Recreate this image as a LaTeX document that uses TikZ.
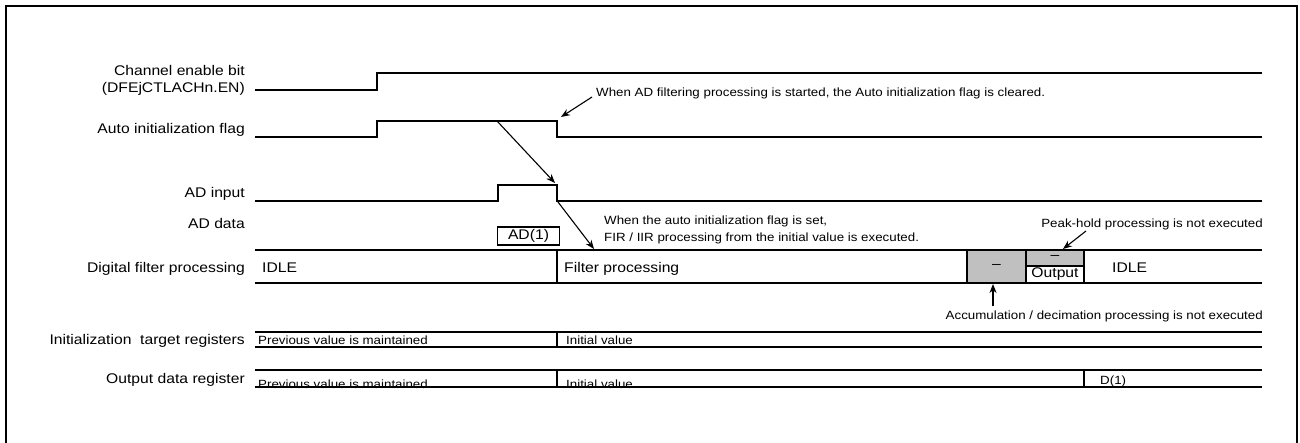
\documentclass[tikz,border=0pt]{standalone}
\usepackage{fontspec}
\setmainfont{Liberation Sans}[FakeStretch=1.12]
\usetikzlibrary{arrows.meta}
\definecolor{boxgray}{RGB}{192,192,192}
\begin{document}
\begin{tikzpicture}[x=1pt,y=-1pt,
  sig/.style={line width=1.4pt},
  rowline/.style={line width=1.8pt},
  lab/.style={font=\fontsize{14}{17}\selectfont, inner sep=0pt},
  small/.style={font=\fontsize{11.9}{16}\selectfont, inner sep=0pt},
  arr/.style={line width=1.1pt, -{Stealth[length=9pt,width=7pt]}},
  grayfill/.style={fill=boxgray, draw=black, line width=1.4pt},
]
\useasboundingbox (0,0) rectangle (1300,442);
\draw[line width=2.4pt] (6,446) -- (6,6) -- (1297,6) -- (1297,446);

% labels
\node[lab, anchor=base east] (l1a) at (245,75) {Channel enable bit};
\node[lab, anchor=base east] (l1b) at (245,92) {(DFEjCTLACHn.EN)};
\node[lab, anchor=base east] (l2) at (245,133) {Auto initialization flag};
\node[lab, anchor=base east] (l3) at (245,197) {AD input};
\node[lab, anchor=base east] (l4) at (245,228) {AD data};
\node[lab, anchor=base east] (l5) at (245,272) {Digital filter processing};
\node[lab, anchor=base east] (l6) at (245,344) {Initialization\ \ target registers};
\node[lab, anchor=base east] (l7) at (245,383) {Output data register};

% signals
\draw[sig] (255,90) -- (377,90) -- (377,73) -- (1262,73);
\draw[sig] (255,137) -- (377,137) -- (377,121) -- (557,121) -- (557,137) -- (1262,137);
\draw[sig] (255,201) -- (498,201) -- (498,185) -- (557,185) -- (557,201) -- (1262,201);

% named points for arrows
\coordinate (a1s) at (497,121);
\coordinate (a1e) at (555,183);
\coordinate (a2s) at (558,202);
\coordinate (a2e) at (594,249);
\coordinate (a3s) at (592,97);
\coordinate (a3e) at (561,117);
\coordinate (a4s) at (1086,231);
\coordinate (a4e) at (1063,249);
\coordinate (a5s) at (993,306);
\coordinate (a5e) at (993,284);

% AD(1) box
\node[lab, draw, line width=1.4pt, minimum width=62pt, minimum height=18pt, inner sep=0pt] (ad1) at (528.5,236) {AD(1)};

% Digital filter row
\node[grayfill, minimum width=59pt, minimum height=33pt, inner sep=0pt] (g1) at (996.5,266.5) {};
\node[lab] (g1t) at (996.5,266) {--};
\node[grayfill, minimum width=58pt, minimum height=16pt, inner sep=0pt] (g2) at (1055,258) {};
\node[lab] (g2t) at (1055,257) {--};
\node[lab, draw, fill=white, line width=1.4pt, minimum width=58pt, minimum height=17pt, inner sep=0pt] (g3) at (1055,274.5) {Output};
\draw[rowline] (255,250) -- (1262,250);
\draw[rowline] (255,283) -- (1262,283);
\draw[sig] (557,250) -- (557,283);
\node[lab, anchor=base west] (idle1) at (262,272) {IDLE};
\node[lab, anchor=base west] (filt) at (564,272) {Filter processing};
\node[lab, anchor=base west] (idle2) at (1112,272) {IDLE};

% Init target registers row
\node[small, anchor=base west] (pv1) at (258,344) {Previous value is maintained};
\node[small, anchor=base west] (iv1) at (566,344) {Initial value};
\draw[rowline] (255,332) -- (1262,332);
\draw[rowline] (255,347) -- (1262,347);
\draw[sig] (557,332) -- (557,347);

% Output data register row
\node[small, anchor=base west] (pv2) at (258,388) {Previous value is maintained};
\node[small, anchor=base west] (iv2) at (566,388) {Initial value};
\node[small, anchor=base west] (d1) at (1100,384) {D(1)};
\draw[rowline] (255,370) -- (1262,370);
\draw[rowline] (255,387) -- (1262,387);
\draw[sig] (557,370) -- (557,387);
\draw[sig] (1084,370) -- (1084,387);

% annotations
\node[small, anchor=base west] (n1) at (596,96) {When AD filtering processing is started, the Auto initialization flag is cleared.};
\node[small, anchor=base west] (n2a) at (604,224) {When the auto initialization flag is set,};
\node[small, anchor=base west] (n2b) at (604,241) {FIR / IIR processing from the initial value is executed.};
\node[small, anchor=base east] (n3) at (1263,227) {Peak-hold processing is not executed};
\node[small, anchor=base east] (n4) at (1263,319) {Accumulation / decimation processing is not executed};

% arrows
\draw[arr] (a1s) -- (a1e);
\draw[arr] (a2s) -- (a2e);
\draw[arr] (a3s) -- (a3e);
\draw[arr] (a4s) -- (a4e);
\draw[arr] (a5s) -- (a5e);
\end{tikzpicture}
\end{document}
